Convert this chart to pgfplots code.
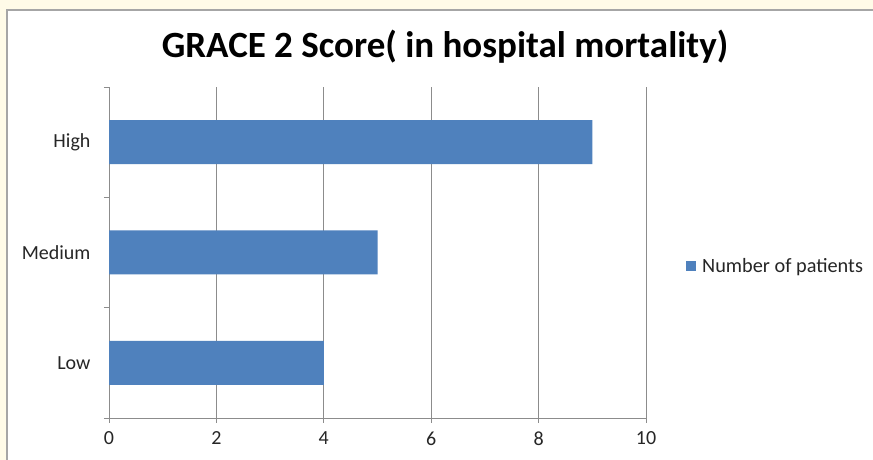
\documentclass[border=0pt]{standalone}
\usepackage{pgfplots}
\pgfplotsset{compat=1.18}
\usepackage{fontspec}
\setmainfont{Carlito}
\definecolor{barblue}{HTML}{4F81BD}
\definecolor{cream}{HTML}{FFFBE8}
\definecolor{gridgray}{HTML}{8C8C8C}
\begin{document}
\begin{tikzpicture}
\useasboundingbox (0pt,0pt) rectangle (873pt,460pt);
\fill[cream] (0pt,0pt) rectangle (873pt,460pt);
\filldraw[fill=white,draw=gray!70,line width=1.2pt] (7pt,-5pt) rectangle (880pt,450pt);
\node[font=\bfseries\fontsize{37}{40}\selectfont] at (445pt,413pt) {GRACE 2 Score( in hospital mortality)};
\begin{axis}[
  at={(109pt,42pt)}, anchor=origin,
  scale only axis, width=537pt, height=331pt,
  xbar, bar width=44pt,
  xmin=0, xmax=10, ymin=0.5, ymax=3.5,
  axis x line=bottom, axis y line=left,
  axis line style={gridgray,-},
  xtick={0,2,4,6,8,10},
  xmajorgrids, grid style={gridgray,line width=0.8pt},
  ytick={0.5,1.5,2.5,3.5}, yticklabels={},
  extra y ticks={1,2,3}, extra y tick labels={Low,Medium,High},
  extra y tick style={major tick length=0pt, grid=none},
  tick align=outside, major tick length=5pt,
  tick style={gridgray,line width=0.8pt},
  ticklabel style={font=\fontsize{20}{22}\selectfont, text=black!85},
  /pgf/number format/assume math mode=true,
  yticklabel style={xshift=-15pt},
  xticklabel style={yshift=-5pt},
  legend style={at={(1.0745,0.459)}, anchor=west, draw=none, fill=none,
    font=\fontsize{20.3}{22}\selectfont, text=black!85, inner sep=0pt},
  legend image code/.code={\fill[barblue] (0pt,-5pt) rectangle (10pt,5pt);},
]
\addplot[fill=barblue, draw=none] coordinates {(4,1) (5,2) (9,3)};
\addlegendentry{\hspace{4pt}Number of patients}
\end{axis}
\end{tikzpicture}
\end{document}
